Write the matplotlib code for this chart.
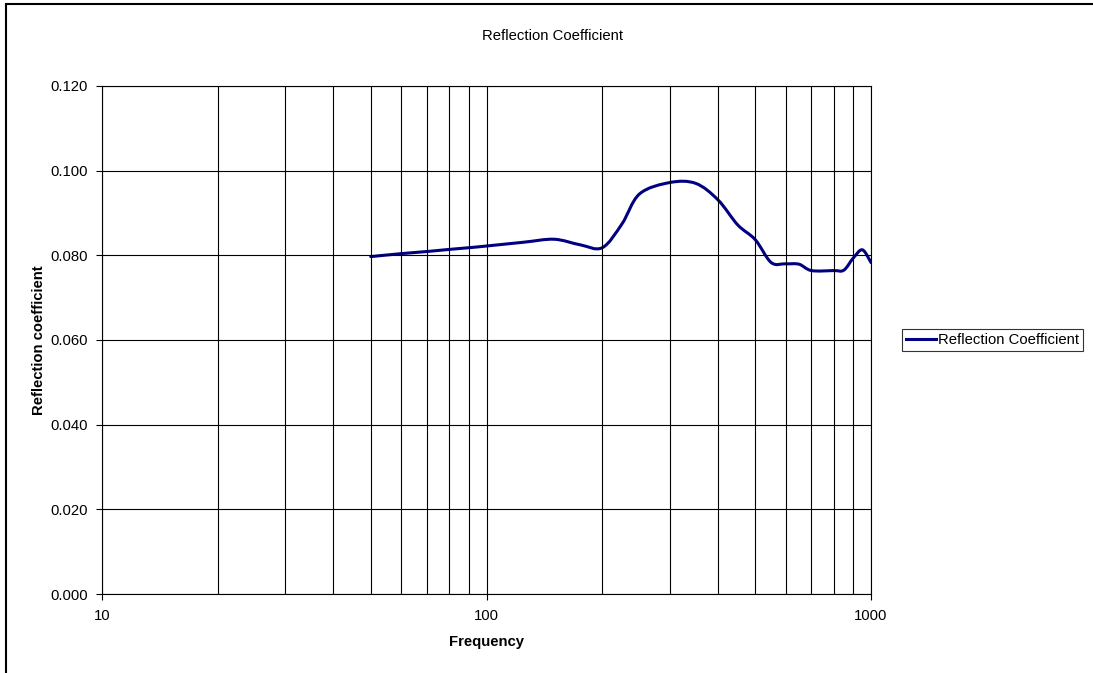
import numpy as np
import matplotlib.pyplot as plt
from matplotlib.path import Path
from matplotlib.patches import PathPatch, Rectangle
from matplotlib.lines import Line2D
from matplotlib.ticker import FixedLocator, NullFormatter

plt.rcParams['font.family'] = ['Liberation Sans', 'DejaVu Sans']

# data
freq = [50, 60, 70, 80, 90, 100, 125, 150, 175, 200, 225, 250, 300, 350,
        400, 450, 500, 550, 600, 650, 700, 800, 850, 900, 950, 1000]
refl = [0.0797, 0.0804, 0.0809, 0.0814, 0.0818, 0.0822, 0.0831, 0.0838,
        0.0825, 0.0818, 0.0874, 0.0945, 0.0972, 0.0970, 0.0931, 0.0872,
        0.0837, 0.0783, 0.0780, 0.0779, 0.0764, 0.0764, 0.0765, 0.0794,
        0.0813, 0.0783]
y_ticks = [0.0, 0.02, 0.04, 0.06, 0.08, 0.10, 0.12]
x_major = [10, 100, 1000]
x_minor = [20, 30, 40, 50, 60, 70, 80, 90, 200, 300, 400, 500, 600, 700, 800, 900]

line_color = '#000080'
fs = 10.7


def smooth_path(xs, ys):
    # bezier smoothing like a spreadsheet "smoothed line", done in log-x space
    lx = np.log10(xs)
    y = np.asarray(ys)
    n = len(lx)
    verts = [(xs[0], y[0])]
    codes = [Path.MOVETO]
    for i in range(n - 1):
        i0 = max(i - 1, 0)
        i3 = min(i + 2, n - 1)
        c1x = lx[i] + (lx[i + 1] - lx[i0]) / 6
        c1y = y[i] + (y[i + 1] - y[i0]) / 6
        c2x = lx[i + 1] - (lx[i3] - lx[i]) / 6
        c2y = y[i + 1] - (y[i3] - y[i]) / 6
        verts += [(10 ** c1x, c1y), (10 ** c2x, c2y), (xs[i + 1], y[i + 1])]
        codes += [Path.CURVE4] * 3
    return Path(verts, codes)


fig = plt.figure(figsize=(10.93, 6.73), dpi=100)
ax = fig.add_axes([102 / 1093, 1 - 594 / 673, (871 - 102) / 1093, (594 - 86) / 673])

ax.set_xscale('log')
ax.set_xlim(10, 1000)
ax.set_ylim(0, 0.12)

ax.xaxis.set_major_locator(FixedLocator(x_major))
ax.xaxis.set_minor_locator(FixedLocator(x_minor))
ax.xaxis.set_minor_formatter(NullFormatter())
ax.set_xticklabels([str(v) for v in x_major])
ax.set_yticks(y_ticks)
ax.set_yticklabels(['%.3f' % v for v in y_ticks])

ax.grid(True, which='both', axis='x', color='black', linewidth=0.8)
ax.grid(True, which='major', axis='y', color='black', linewidth=0.8)
ax.tick_params(axis='both', which='major', direction='out', length=4,
               width=0.8, labelsize=fs, color='black', pad=6)
ax.tick_params(axis='x', which='major', pad=6.5)
ax.tick_params(axis='x', which='minor', length=0)
for s in ax.spines.values():
    s.set_color('black')
    s.set_linewidth(0.8)

patch = PathPatch(smooth_path(freq, refl), facecolor='none',
                  edgecolor=line_color, linewidth=2.2, capstyle='round')
ax.add_patch(patch)

ax.set_xlabel('Frequency', fontsize=fs, fontweight='bold', labelpad=9)
ax.set_ylabel('Reflection coefficient', fontsize=fs, fontweight='bold', labelpad=3.5)
fig.text(553 / 1093, 1 - 36 / 673, 'Reflection Coefficient', ha='center',
         va='center', fontsize=fs)

handle = Line2D([], [], color=line_color, linewidth=2.2)
leg = fig.legend([handle], ['Reflection Coefficient'], loc='center left',
                 bbox_to_anchor=(902 / 1093, 1 - 340 / 673), fontsize=fs,
                 frameon=True, fancybox=False, handlelength=2.0,
                 handletextpad=0.1, borderpad=0.3, borderaxespad=0)
leg.get_frame().set_edgecolor('black')
leg.get_frame().set_linewidth(0.8)

# outer chart border (only left/top edges fall inside the image)
fig.patches.append(Rectangle((6 / 1093, -0.1), 1.2, 1.1 - 4 / 673,
                             transform=fig.transFigure, fill=False,
                             edgecolor='black', linewidth=1.5))

fig.savefig('out.png', dpi=100)
